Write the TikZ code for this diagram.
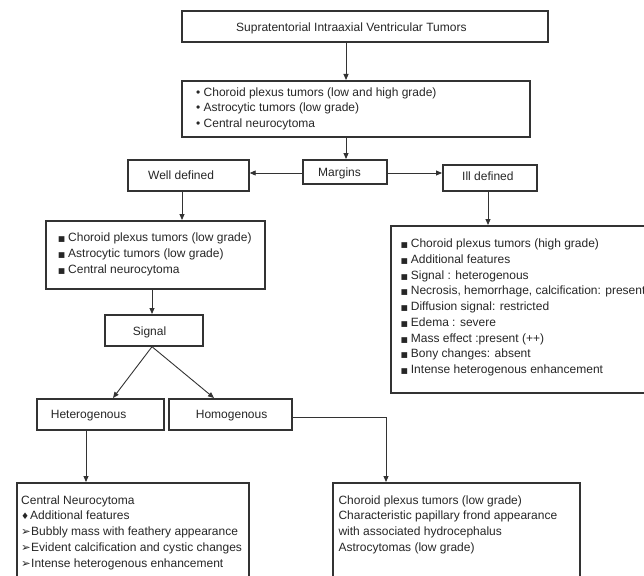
\documentclass[tikz,border=0pt]{standalone}
\usepackage{fontspec}
\setmainfont{Liberation Sans}
\newfontfamily\symfont{DejaVu Sans}
\usetikzlibrary{arrows.meta}
\newcommand{\sqb}{\makebox[10pt][l]{\symfont\fontsize{7.5}{7.5}\selectfont ■}}
\newcommand{\dmb}{\makebox[9pt][l]{\symfont\fontsize{9}{9}\selectfont ♦}}
\newcommand{\arb}{\makebox[10pt][l]{\symfont\fontsize{11.5}{11.5}\selectfont ➢}}
\begin{document}
\begin{tikzpicture}[x=1pt,y=-1pt,
 box/.style={draw=black!80, line width=1.7pt, inner sep=0pt, anchor=north west},
 txt/.style={inner sep=0pt, align=left, font=\fontsize{12}{15.75}\selectfont, text=black!85},
 arr/.style={draw=black!80, line width=0.9pt, -{Triangle[length=6pt,width=5pt]}}]
\clip (0,0) rectangle (644,575);
% boxes
\node[box, minimum width=366, minimum height=31] (top) at (181,10) {};
\node[box, minimum width=348, minimum height=56] (list1) at (181,80) {};
\node[box, minimum width=84, minimum height=24] (marg) at (302,159) {};
\node[box, minimum width=121, minimum height=31] (well) at (127,159) {};
\node[box, minimum width=94, minimum height=26] (ill) at (442,164) {};
\node[box, minimum width=219, minimum height=68] (list2) at (45,220) {};
\node[box, minimum width=98, minimum height=31] (sig) at (104,314) {};
\node[box, minimum width=320, minimum height=167] (rlist) at (390,225) {};
\node[box, minimum width=127, minimum height=31] (het) at (36,398) {};
\node[box, minimum width=123, minimum height=31] (hom) at (168,398) {};
\node[box, minimum width=232, minimum height=110] (ll) at (16,482) {};
\node[box, minimum width=247, minimum height=110] (lr) at (332,482) {};
% texts
\node[txt, anchor=base west] (top-t) at (236,32) {Supratentorial Intraaxial Ventricular Tumors};
\node[txt, anchor=north west] (list1-t) at (196,87.3) {• Choroid plexus tumors (low and high grade)\\• Astrocytic tumors (low grade)\\• Central neurocytoma};
\node[txt, anchor=base west] (marg-t) at (318,176) {Margins};
\node[txt, anchor=base west] (well-t) at (148,179) {Well defined};
\node[txt, anchor=base west] (ill-t) at (462,180.5) {Ill defined};
\node[txt, anchor=north west] (list2-t) at (58,233) {\sqb Choroid plexus tumors (low grade)\\\sqb Astrocytic tumors (low grade)\\\sqb Central neurocytoma};
\node[txt, anchor=base west] (sig-t) at (132.7,335.7) {Signal};
\node[txt, anchor=north west] (rlist-t) at (400.7,238.6) {\sqb Choroid plexus tumors (high grade)\\\sqb Additional features\\\sqb Signal : heterogenous\\\sqb Necrosis, hemorrhage, calcification: present\\\sqb Diffusion signal: restricted\\\sqb Edema : severe\\\sqb Mass effect :present (++)\\\sqb Bony changes: absent\\\sqb Intense heterogenous enhancement};
\node[txt, anchor=base west] (het-t) at (50.7,418.3) {Heterogenous};
\node[txt, anchor=base west] (hom-t) at (195.7,418.3) {Homogenous};
\node[txt, anchor=north west] (ll-t) at (21,495.3) {Central Neurocytoma\\\dmb Additional features\\\arb Bubbly mass with feathery appearance\\\arb Evident calcification and cystic changes\\\arb Intense heterogenous enhancement};
\node[txt, anchor=north west] (lr-t) at (338.3,495.3) {Choroid plexus tumors (low grade)\\Characteristic papillary frond appearance\\with associated hydrocephalus\\Astrocytomas (low grade)};
% guide coordinates
\coordinate (gA) at (346,0);
\coordinate (gB) at (182,0);
\coordinate (gC) at (488,0);
\coordinate (gD) at (152,0);
\coordinate (gE) at (113,0);
\coordinate (gF) at (214,0);
\coordinate (gG) at (86,0);
\coordinate (gH) at (386,0);
\coordinate (gY) at (0,173);
\coordinate (gZ) at (0,417);
% connectors
\draw[arr] (top.south -| gA) -- (list1.north -| gA);
\draw[arr] (list1.south -| gA) -- (marg.north -| gA);
\draw[arr] (marg.west |- gY) -- (well.east |- gY);
\draw[arr] (marg.east |- gY) -- (ill.west |- gY);
\draw[arr] (well.south -| gB) -- (list2.north -| gB);
\draw[arr] (ill.south -| gC) -- (rlist.north -| gC);
\draw[arr] (list2.south -| gD) -- (sig.north -| gD);
\draw[arr] (sig.south -| gD) -- (het.north -| gE);
\draw[arr] (sig.south -| gD) -- (hom.north -| gF);
\draw[arr] (het.south -| gG) -- (ll.north -| gG);
\draw[arr] (hom.east |- gZ) -| (lr.north -| gH);
\end{tikzpicture}
\end{document}
